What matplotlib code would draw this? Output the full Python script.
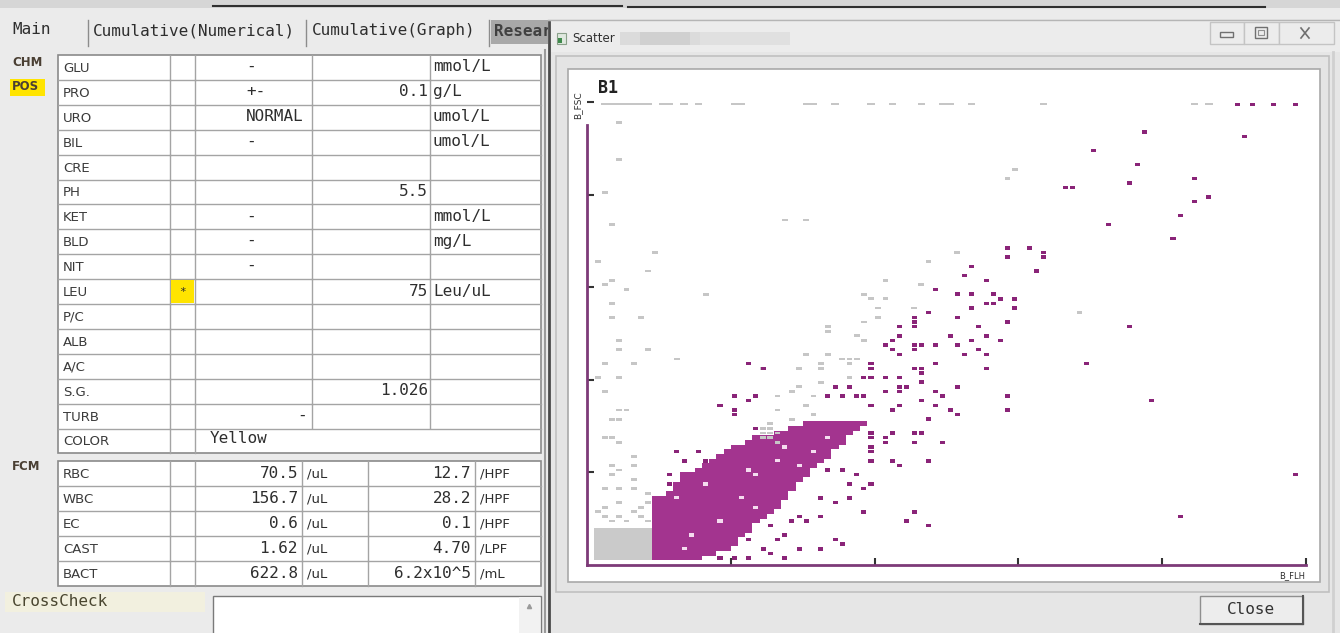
import numpy as np
import matplotlib
matplotlib.use('Agg')
import matplotlib.pyplot as plt
from matplotlib.patches import Rectangle

MONO = 'DejaVu Sans Mono'
SANS = 'DejaVu Sans'

# ---------------- data: left panel ----------------
tabs = ['Main', 'Cumulative(Numerical)', 'Cumulative(Graph)', 'Research']

chm_items = ['GLU', 'PRO', 'URO', 'BIL', 'CRE', 'PH', 'KET', 'BLD', 'NIT',
             'LEU', 'P/C', 'ALB', 'A/C', 'S.G.', 'TURB', 'COLOR']
chm_flags = ['', '', '', '', '', '', '', '', '', '*', '', '', '', '', '', '']
chm_qual = ['-', '+-', 'NORMAL', '-', '', '', '-', '-', '-', '', '', '', '', '', '-', 'Yellow']
chm_num = ['', '0.1', '', '', '', '5.5', '', '', '', '75', '', '', '', '1.026', '', '']
chm_unit = ['mmol/L', 'g/L', 'umol/L', 'umol/L', '', '', 'mmol/L', 'mg/L', '',
            'Leu/uL', '', '', '', '', '', '']

fcm_items = ['RBC', 'WBC', 'EC', 'CAST', 'BACT']
fcm_per_ul = ['70.5', '156.7', '0.6', '1.62', '622.8']
fcm_unit1 = ['/uL', '/uL', '/uL', '/uL', '/uL']
fcm_per_field = ['12.7', '28.2', '0.1', '4.70', '6.2x10^5']
fcm_unit2 = ['/HPF', '/HPF', '/HPF', '/LPF', '/mL']

# ---------------- data: B1 scatter (100 x 100 channel grid, (col, row)) ----------------
gray_block = [(1, 1, 8), (2, 1, 8), (3, 1, 8), (4, 1, 8), (5, 1, 8), (6, 1, 8), (7, 1, 8)]

# (row, first col, last col) of the solid purple population
dense_spans = [(1, 9, 15), (2, 9, 17), (3, 9, 19), (4, 9, 20), (5, 9, 20), (6, 9, 21),
               (7, 9, 22), (8, 9, 22), (9, 9, 23), (10, 9, 24), (11, 9, 25), (12, 9, 26),
               (13, 9, 26), (14, 9, 27), (15, 11, 27), (16, 12, 28), (17, 12, 28),
               (18, 13, 29), (19, 13, 30), (20, 15, 30), (21, 16, 31), (22, 17, 32),
               (23, 18, 33), (24, 19, 33), (25, 20, 34), (26, 22, 35), (27, 23, 35),
               (28, 26, 36), (29, 28, 37), (30, 30, 38)]

dense_holes = [(23, 19), (21, 14), (14, 6), (23, 12), (29, 21), (31, 24), (27, 25),
               (16, 17), (12, 14), (22, 20), (18, 9), (13, 3), (26, 22), (33, 27)]

purple_pts = [(58, 68), (58, 66), (53, 64), (52, 62), (55, 61), (48, 59), (51, 58), (53, 58),
              (56, 58), (57, 57), (59, 57), (53, 55), (55, 56), (56, 56), (59, 55), (47, 54),
              (43, 51), (45, 52), (45, 53), (45, 51), (51, 53), (54, 51), (58, 52), (43, 49),
              (42, 48), (41, 47), (50, 49), (53, 48), (55, 49), (57, 48), (45, 47), (46, 47),
              (48, 47), (42, 46), (51, 47), (54, 46), (55, 45), (45, 46), (43, 45), (52, 45),
              (55, 42), (48, 43), (39, 43), (39, 42), (45, 42), (46, 42), (38, 40), (39, 40),
              (41, 40), (43, 40), (43, 38), (46, 41), (46, 39), (51, 38), (58, 36), (58, 33),
              (34, 38), (36, 38), (33, 36), (35, 36), (37, 36), (38, 36), (41, 37), (43, 37),
              (44, 38), (46, 35), (48, 37), (49, 36), (48, 34), (50, 33), (51, 32), (42, 33),
              (43, 34), (39, 34), (47, 31), (46, 28), (45, 26), (49, 26), (22, 43), (24, 42),
              (20, 36), (22, 35), (23, 36), (18, 34), (20, 33), (20, 32), (42, 28), (41, 27),
              (39, 27), (45, 28),
              (77, 93), (91, 92), (70, 89), (76, 86), (84, 83), (66, 81), (67, 81), (75, 82),
              (84, 78), (86, 79), (82, 75), (72, 73), (81, 70), (61, 68), (63, 66), (63, 67),
              (62, 63), (75, 51), (69, 43),
              (12, 24), (15, 24), (16, 22), (11, 19), (11, 17), (23, 29), (13, 22), (33, 20),
              (35, 20), (37, 19), (39, 17), (36, 17), (38, 16), (39, 22), (32, 14), (34, 13),
              (36, 14), (29, 10), (30, 9), (32, 10), (25, 8), (27, 6), (28, 9), (26, 5),
              (29, 3), (32, 3), (34, 5), (35, 4), (22, 5), (24, 3), (22, 1), (25, 2), (27, 1),
              (18, 1), (20, 1), (39, 24), (39, 25), (38, 11), (39, 28),
              (78, 35), (98, 19), (82, 10), (45, 11), (44, 9), (47, 8), (47, 22), (42, 22),
              (43, 21), (41, 26), (42, 28), (46, 28)]

gray_pts = [(4, 95), (4, 87), (2, 80), (3, 73), (27, 74), (30, 74), (9, 67), (1, 65), (8, 63),
            (3, 61), (2, 60), (5, 59), (16, 58), (3, 56), (3, 53), (7, 53), (41, 61), (46, 60),
            (47, 65), (51, 67), (38, 58), (39, 57), (41, 57), (40, 55), (40, 53), (38, 52),
            (45, 55), (33, 51), (33, 50), (4, 48), (4, 46), (8, 46), (12, 44), (2, 43), (6, 43),
            (38, 48), (30, 45), (33, 45), (37, 44), (32, 43), (36, 43), (29, 42), (24, 42),
            (1, 40), (4, 40), (32, 39), (36, 40), (68, 54), (58, 83), (59, 85),
            (2, 37), (4, 33), (5, 33), (3, 31), (4, 31), (2, 27), (3, 27), (4, 26), (6, 23),
            (3, 21), (4, 20), (6, 21), (3, 19), (6, 18), (2, 16), (4, 16), (6, 16), (8, 15),
            (2, 12), (4, 13), (7, 12), (8, 13), (2, 10), (4, 10), (6, 11), (7, 10), (3, 9),
            (5, 9), (8, 9), (1, 11),
            (26, 36), (28, 37), (29, 38), (31, 36), (30, 34), (26, 33), (28, 31), (25, 30),
            (24, 28), (25, 27), (31, 32), (32, 42), (36, 44), (35, 44), (37, 49),
            (24, 29), (25, 29), (25, 28), (26, 28), (26, 26), (24, 27)]

# saturated events on the top row (row 99)
top_gray_cols = [2, 3, 4, 5, 6, 7, 8, 10, 11, 13, 15, 20, 21, 30, 31, 34, 39, 42, 46,
                 49, 50, 53, 63, 84, 86]
top_purple_cols = [90, 92, 95, 98]

axis_ticks = [20, 40, 60, 80, 100]

# ---------------- figure ----------------
W, H = 1340, 633
fig = plt.figure(figsize=(W / 100, H / 100), dpi=100)
fig.patch.set_facecolor('#ebebeb')

ui = fig.add_axes([0, 0, 1, 1])
ui.set_xlim(0, W)
ui.set_ylim(H, 0)
ui.axis('off')


def box(x0, y0, x1, y1, fc='white', ec='none', lw=1.0, z=1, **kw):
    ui.add_patch(Rectangle((x0, y0), x1 - x0, y1 - y0, facecolor=fc,
                           edgecolor=ec, linewidth=lw, zorder=z, **kw))


def txt(x, y, s, size=11.5, family=MONO, ha='left', z=3, **kw):
    ui.text(x, y, s, fontsize=size, family=family, ha=ha, va='center',
            color=kw.pop('color', '#2e2e2e'), zorder=z, **kw)


# top strip of the window behind
box(0, 0, W, 8, fc='#d6d6d6', z=1)
ui.plot([213, 622], [6, 6], color='#303030', lw=1.5, zorder=2)
ui.plot([628, 1265], [7, 7], color='#303030', lw=1.5, zorder=2)

# tabs
txt(12, 30, tabs[0])
ui.plot([88, 88], [20, 46], color='#8c8c8c', lw=1, zorder=2)
txt(93, 31, tabs[1])
ui.plot([306, 306], [20, 46], color='#8c8c8c', lw=1, zorder=2)
txt(312, 31, tabs[2])
ui.plot([489, 489], [20, 46], color='#8c8c8c', lw=1, zorder=2)
box(491, 20, 560, 44, fc='#a8a8a8', z=2)
txt(494, 32, tabs[3], weight='bold', color='#404040')

# side group labels
box(10, 79, 45, 96, fc='#ffe400', z=2)
txt(12, 62, 'CHM', size=8.5, family=SANS, weight='bold', color='#4a3f33')
txt(12, 87, 'POS', size=8.5, family=SANS, weight='bold', color='#4a3f33')
txt(12, 466, 'FCM', size=8.5, family=SANS, weight='bold', color='#4a3f33')

# chemistry table
c1 = [58, 170, 195, 312, 430, 541]
t1_top, rh = 55, 24.9
t1_bot = t1_top + rh * len(chm_items)
box(c1[0], t1_top, c1[-1], t1_bot, fc='white', ec='#8a8a8a', lw=1.2, z=1)
for i, name in enumerate(chm_items):
    y0 = t1_top + i * rh
    yc = y0 + rh / 2
    if i > 0:
        ui.plot([c1[0], c1[-1]], [y0, y0], color='#a4a4a4', lw=1, zorder=2)
    last = 3 if name == 'COLOR' else len(c1) - 1
    for x in c1[1:last]:
        ui.plot([x, x], [y0, y0 + rh], color='#a4a4a4', lw=1, zorder=2)
    if chm_flags[i]:
        box(c1[1] + 1, y0 + 1, c1[2] - 1, y0 + rh - 1, fc='#ffe400', z=2)
        txt((c1[1] + c1[2]) / 2, yc, chm_flags[i], size=8, ha='center')
    txt(63, yc + 1, name, size=9.5, family=SANS, color='#3a3a3a')
    if name == 'COLOR':
        txt(210, yc - 2, chm_qual[i])
    elif name == 'TURB':
        txt(307, yc - 1, chm_qual[i], ha='right')
    elif chm_qual[i]:
        txt(246, yc - 1, chm_qual[i])
    if chm_num[i]:
        txt(428, yc - 0.5, chm_num[i], ha='right')
    if chm_unit[i]:
        txt(433, yc - 0.5, chm_unit[i])

# FCM table
c2 = [58, 170, 195, 302, 368, 475, 541]
t2_top, rh2 = 461, 24.9
t2_bot = t2_top + rh2 * len(fcm_items)
box(c2[0], t2_top, c2[-1], t2_bot, fc='white', ec='#8a8a8a', lw=1.2, z=1)
for i, name in enumerate(fcm_items):
    y0 = t2_top + i * rh2
    yc = y0 + rh2 / 2
    if i > 0:
        ui.plot([c2[0], c2[-1]], [y0, y0], color='#a4a4a4', lw=1, zorder=2)
    for x in c2[1:-1]:
        ui.plot([x, x], [y0, y0 + rh2], color='#a4a4a4', lw=1, zorder=2)
    txt(63, yc + 1, name, size=9.5, family=SANS, color='#3a3a3a')
    txt(298, yc, fcm_per_ul[i], ha='right')
    txt(307, yc + 1, fcm_unit1[i], size=9.5, family=SANS)
    txt(471, yc, fcm_per_field[i], ha='right')
    txt(480, yc + 1, fcm_unit2[i], size=9.5, family=SANS)

# panel edge
ui.plot([545, 545], [50, 633], color='#9a9a9a', lw=1.5, zorder=2)

# CrossCheck
box(5, 592, 205, 612, fc='#f2f0df', z=1)
txt(12, 601, 'CrossCheck', color='#4a4630')
box(213, 596, 541, 640, fc='white', ec='#7a7a7a', lw=1, z=2)
box(519, 597, 540, 640, fc='#f2f2f2', z=2)
ui.plot([529], [606], marker='^', ms=3, color='#9a9a9a', zorder=3)

# ---------------- Scatter window ----------------
box(548, 19, W + 2, H + 2, fc='#e6e6e6', z=5)
ui.plot([549, 549], [22, H], color='#4a4a4a', lw=2, zorder=6)
ui.plot([548, W], [20, 20], color='#b5b5b5', lw=1, zorder=6)
box(551, 21, W, 52, fc='#ececec', z=5)
# title icon + text
box(557, 33, 566, 44, fc='#dfe8df', ec='#8aa08a', lw=0.8, z=6)
box(558, 38, 562, 43, fc='#3f8a4c', z=6)
txt(572, 38, 'Scatter', size=8.5, family=SANS, z=7, color='#303030')
for x0, x1, a in [(620, 700, 0.35), (640, 690, 0.35), (700, 790, 0.25)]:
    box(x0, 32, x1, 45, fc='#bdbdbd', z=6, alpha=a)
# caption buttons
for x0, x1 in [(1210, 1244), (1244, 1279), (1279, 1334)]:
    box(x0, 22, x1, 44, fc='#ececec', ec='#c4c4c4', lw=1, z=6)
box(1220, 32, 1233, 37, fc='none', ec='#707070', lw=1, z=7)
box(1255, 27, 1267, 38, fc='none', ec='#707070', lw=1, z=7)
box(1258, 30, 1264, 35, fc='none', ec='#909090', lw=0.8, z=7)
ui.plot([1301, 1309], [28, 38], color='#707070', lw=1.2, zorder=7)
ui.plot([1301, 1309], [38, 28], color='#707070', lw=1.2, zorder=7)

# group frame and plot pane
box(556, 56, 1329, 592, fc='#e4e4e4', ec='#c0c0c0', lw=1.2, z=6)
box(568, 69, 1320, 582, fc='white', ec='#a9a9a9', lw=1.2, z=6)
ui.plot([1333, 1333], [52, 633], color='#d0d0d0', lw=2, zorder=6)

txt(598, 88, 'B1', size=12, weight='bold', z=7, color='#222222')
txt(578, 105, 'B_FSC', size=6.5, family=SANS, rotation=90, ha='center', z=7)
txt(1292, 576, 'B_FLH', size=6, family=SANS, ha='center', z=7)

# Close button
box(1200, 596, 1303, 624, fc='#ededed', ec='#8f8f8f', lw=1, z=6)
ui.plot([1200, 1303], [624, 624], color='#555555', lw=1.5, zorder=7)
ui.plot([1303, 1303], [596, 624], color='#555555', lw=1.5, zorder=7)
txt(1251, 609, 'Close', ha='center', z=7, color='#333333')

# ---------------- scatter axes ----------------
ax = fig.add_axes([587 / W, (H - 565) / H, 719 / W, 463 / H])
ax.set_xlim(0, 100)
ax.set_ylim(0, 100)
ax.patch.set_alpha(0)

DENSE = '#a3348f'
DOT = '#8a2478'
GRAY = '#c6c6c6'

r, a, b = zip(*gray_block)
ax.barh(r, np.array(b) - np.array(a) + 1, left=a, height=1, align='edge',
        color='#cacaca', linewidth=0)

r, a, b = zip(*dense_spans)
ax.barh(r, np.array(b) - np.array(a) + 1, left=a, height=1, align='edge',
        color=DENSE, linewidth=0)

hc, hr = zip(*dense_holes)
ax.bar(np.array(hc) + 0.15, 0.7, width=0.7, bottom=np.array(hr) + 0.15, align='edge',
       color='#f4dcef', linewidth=0)

gc, gr = zip(*gray_pts)
ax.bar(np.array(gc) + 0.1, 0.6, width=0.8, bottom=np.array(gr) + 0.2, align='edge',
       color=GRAY, linewidth=0)

pc, pr = zip(*purple_pts)
ax.bar(np.array(pc) + 0.15, 0.75, width=0.7, bottom=np.array(pr) + 0.12, align='edge',
       color=DOT, linewidth=0)

ax.bar(np.array(top_gray_cols), 0.45, width=1.0, bottom=99.3, align='edge',
       color=GRAY, linewidth=0)
ax.bar(np.array(top_purple_cols) + 0.15, 0.75, width=0.7, bottom=99.1, align='edge',
       color=DOT, linewidth=0)

for side in ['top', 'right']:
    ax.spines[side].set_visible(False)
ax.spines['left'].set_bounds(0, 95)
for side in ['left', 'bottom']:
    ax.spines[side].set_color('#7d3a78')
    ax.spines[side].set_linewidth(2)
ax.set_xticks(axis_ticks)
ax.set_yticks(axis_ticks)
ax.tick_params(direction='in', length=5, width=1.5, color='#333333',
               labelbottom=False, labelleft=False)

fig.savefig('out.png', dpi=100)
